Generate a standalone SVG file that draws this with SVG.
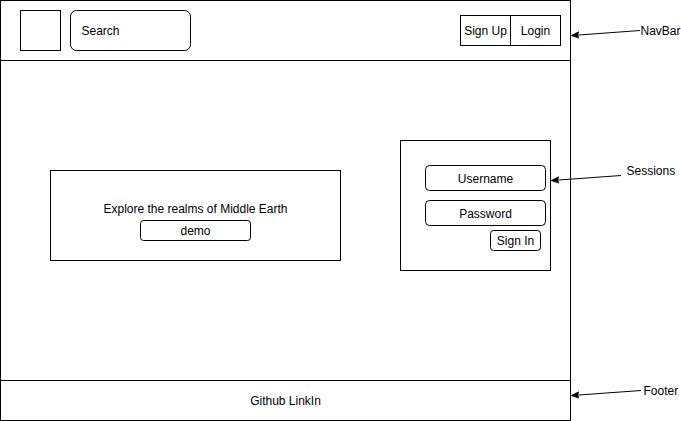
<svg xmlns="http://www.w3.org/2000/svg" width="681" height="421" viewBox="0 0 681 421">
<style>
  .box { fill: #ffffff; stroke: #000000; stroke-width: 1; }
  .t { font-family: "Liberation Sans", Arial, Helvetica, sans-serif; font-size: 12px; fill: #000000; dominant-baseline: central; }
  .c { text-anchor: middle; }
  .conn { stroke: #000000; stroke-width: 1; fill: none; }
</style>
<defs>
  <marker id="arrow" viewBox="0 0 10 10" refX="9" refY="5" markerWidth="8" markerHeight="8" markerUnits="userSpaceOnUse" orient="auto">
    <path d="M0,1 L10,5 L0,9 L2.5,5 Z" fill="#000000" stroke="#000000" stroke-width="1"/>
  </marker>
</defs>
<rect x="0" y="0" width="681" height="421" fill="#ffffff"/>
<g id="page">
  <rect class="box" x="0.5" y="0.5" width="570" height="420"/>
</g>
<g id="navbar">
  <rect class="box" x="0.5" y="0.5" width="570" height="60"/>
</g>
<g id="footer">
  <rect class="box" x="0.5" y="380.5" width="570" height="40"/>
  <text class="t c" x="285.5" y="400.5">Github LinkIn</text>
</g>
<g id="logo">
  <rect class="box" x="20.5" y="10.5" width="40" height="40"/>
</g>
<g id="search">
  <rect class="box" x="70.5" y="10.5" width="120" height="40" rx="6" ry="6"/>
  <text class="t" x="81.5" y="30.5">Search</text>
</g>
<g id="signup">
  <rect class="box" x="460.5" y="15.5" width="50" height="30"/>
  <text class="t c" x="485.5" y="30.5">Sign Up</text>
</g>
<g id="login">
  <rect class="box" x="510.5" y="15.5" width="50" height="30"/>
  <text class="t c" x="535.5" y="30.5">Login</text>
</g>
<g id="hero">
  <rect class="box" x="50.5" y="170.5" width="290" height="90"/>
  <text class="t c" x="195.5" y="208.5">Explore the realms of Middle Earth</text>
</g>
<g id="demo">
  <rect class="box" x="140.5" y="220.5" width="110" height="20" rx="3" ry="3"/>
  <text class="t c" x="195.5" y="230.5">demo</text>
</g>
<g id="sessions">
  <rect class="box" x="400.5" y="140.5" width="150" height="130"/>
</g>
<g id="username">
  <rect class="box" x="425.5" y="165.5" width="120" height="25" rx="4" ry="4"/>
  <text class="t c" x="485.5" y="178.5">Username</text>
</g>
<g id="password">
  <rect class="box" x="425.5" y="200.5" width="120" height="25" rx="4" ry="4"/>
  <text class="t c" x="485.5" y="213.5">Password</text>
</g>
<g id="signin">
  <rect class="box" x="490.5" y="230.5" width="50" height="20" rx="3" ry="3"/>
  <text class="t c" x="515.5" y="240.5">Sign In</text>
</g>
<g id="label-navbar">
  <text class="t" x="640.5" y="30.5">NavBar</text>
</g>
<g id="label-sessions">
  <text class="t" x="626.5" y="170.5">Sessions</text>
</g>
<g id="label-footer">
  <text class="t" x="643.5" y="390.5">Footer</text>
</g>
<g id="connectors">
  <line class="conn" x1="640" y1="30.5" x2="572" y2="35.5" marker-end="url(#arrow)"/>
  <line class="conn" x1="621" y1="175.5" x2="552" y2="180.5" marker-end="url(#arrow)"/>
  <line class="conn" x1="641" y1="390.5" x2="572" y2="395.5" marker-end="url(#arrow)"/>
</g>
</svg>
